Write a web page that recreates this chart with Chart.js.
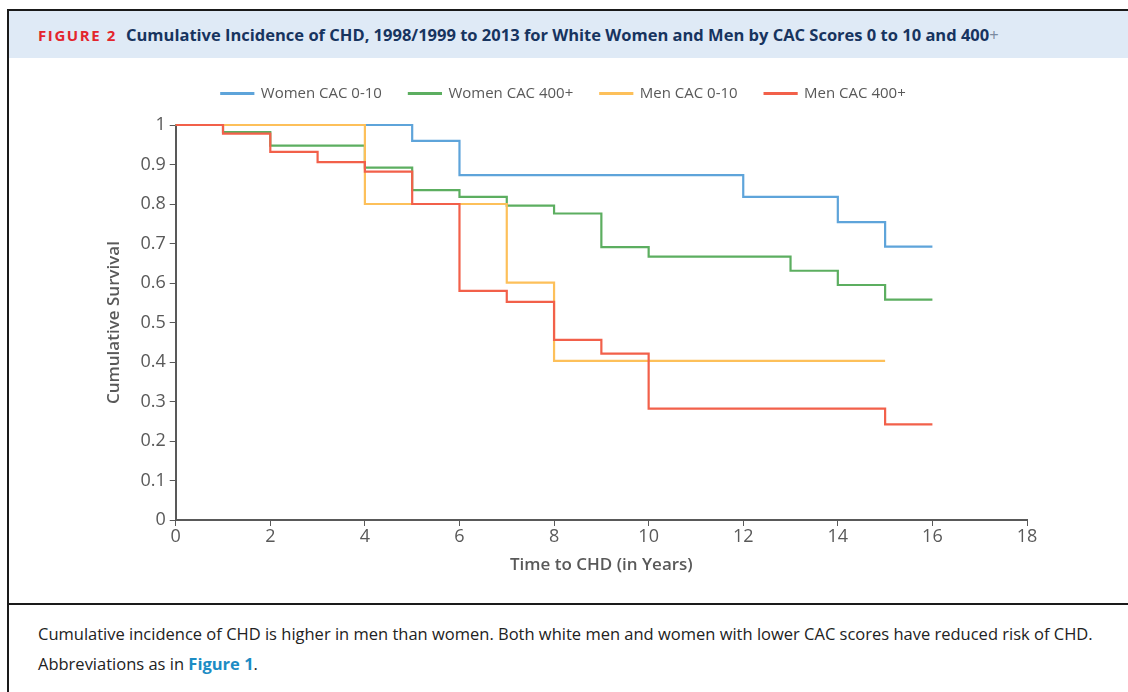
<!DOCTYPE html>
<html>
<head>
<meta charset="utf-8">
<script src="https://cdn.jsdelivr.net/npm/chart.js@4.4.0/dist/chart.umd.min.js"></script>
<style>
    body { margin: 0; background: #fff; font-family: "Open Sans", "Noto Sans", sans-serif; }
    .frame {
        position: absolute; left: 7px; top: 9px; width: 1124px; height: 690px;
        border: 2px solid #1a1a1a; border-bottom: none; box-sizing: border-box;
    }
    .header {
        height: 47px; background: #dfeaf6; line-height: 48px; padding-left: 29px;
        font-size: 16.5px; font-weight: bold; color: #17345f; white-space: nowrap;
    }
    .header .fig { color: #e3252d; font-size: 15px; letter-spacing: 1.6px; margin-right: 9px; }
    .chart-box { position: relative; height: 545px; border-bottom: 2px solid #1a1a1a; }
    .caption {
        padding: 14px 0 0 29px; font-size: 16.5px; line-height: 30px; color: #222; white-space: nowrap;
    }
    .caption b { color: #1c8cc4; }
</style>
</head>
<body>
<div class="frame">
    <div class="header"><span class="fig">FIGURE 2</span>Cumulative Incidence of CHD, 1998/1999 to 2013 for White Women and Men by CAC Scores 0 to 10 and 400<span style="font-weight:normal;color:#7a8aa0">+</span></div>
    <div class="chart-box"><canvas id="chd"></canvas></div>
    <div class="caption">Cumulative incidence of CHD is higher in men than women. Both white men and women with lower CAC scores have reduced risk of CHD.<br>Abbreviations as in <b>Figure 1</b>.</div>
</div>
<script>
// time points (years) and survival at each step
const womenLowT = [0, 5, 6, 12, 14, 15, 16];
const womenLowS = [1, 0.96, 0.873, 0.818, 0.754, 0.692, 0.692];

const womenHighT = [0, 1, 2, 4, 5, 6, 7, 8, 9, 10, 13, 14, 15, 16];
const womenHighS = [1, 0.982, 0.948, 0.892, 0.835, 0.818, 0.796, 0.776, 0.691, 0.667, 0.631, 0.595, 0.558, 0.558];

const menLowT = [0, 4, 7, 8, 15];
const menLowS = [1, 0.8, 0.601, 0.403, 0.403];

const menHighT = [0, 1, 2, 3, 4, 5, 6, 7, 8, 9, 10, 15, 16];
const menHighS = [1, 0.978, 0.932, 0.906, 0.882, 0.8, 0.58, 0.552, 0.456, 0.421, 0.282, 0.242, 0.242];

const seriesNames = ['Women CAC 0-10', 'Women CAC 400+', 'Men CAC 0-10', 'Men CAC 400+'];
const seriesColors = ['#5ea4da', '#5cae60', '#fdc05a', '#f2604a'];

const xTicks = [0, 2, 4, 6, 8, 10, 12, 14, 16, 18];

const toPoints = (t, s) => t.map((x, i) => ({ x, y: s[i] }));
const allSeries = [
    toPoints(womenLowT, womenLowS),
    toPoints(womenHighT, womenHighS),
    toPoints(menLowT, menLowS),
    toPoints(menHighT, menHighS)
];

const axisGray = '#595959';
const fontFamily = '"Open Sans", "Noto Sans", sans-serif';

// extra room between legend and plot
const legendGap = {
    id: 'legendGap',
    beforeInit(chart) {
        const fit = chart.legend.fit;
        chart.legend.fit = function () {
            fit.bind(chart.legend)();
            this.height += 14;
        };
    }
};

new Chart(document.getElementById('chd'), {
    type: 'line',
    data: {
        datasets: allSeries.map((pts, i) => ({
            label: seriesNames[i],
            data: pts,
            borderColor: seriesColors[i],
            backgroundColor: seriesColors[i],
            borderWidth: 2.2,
            pointRadius: 0,
            stepped: true,
            fill: false,
            clip: false,
            order: seriesNames.length - 1 - i   // later series drawn on top
        }))
    },
    options: {
        responsive: true,
        maintainAspectRatio: false,
        animation: false,
        layout: { padding: { left: 91, right: 102, top: 1, bottom: 24 } },
        plugins: {
            legend: {
                position: 'top',
                labels: {
                    boxWidth: 32,
                    boxHeight: 1,
                    padding: 27,
                    color: axisGray,
                    font: { family: fontFamily, size: 15 },
                    sort: (a, b) => a.datasetIndex - b.datasetIndex
                }
            },
            tooltip: { enabled: false }
        },
        scales: {
            x: {
                type: 'linear',
                min: 0,
                max: 18,
                afterBuildTicks: axis => { axis.ticks = xTicks.map(v => ({ value: v })); },
                grid: { display: true, drawOnChartArea: false, drawTicks: true, tickLength: 6, color: axisGray },
                border: { color: axisGray, width: 2 },
                ticks: { color: axisGray, padding: 0, font: { family: fontFamily, size: 18 } },
                title: {
                    display: true, text: 'Time to CHD (in Years)', color: axisGray, padding: { top: 7 },
                    font: { family: fontFamily, size: 17, weight: '600' }
                }
            },
            y: {
                min: 0,
                max: 1,
                ticks: {
                    stepSize: 0.1,
                    color: axisGray,
                    padding: 4,
                    font: { family: fontFamily, size: 18 },
                    callback: v => String(Math.round(v * 10) / 10)
                },
                grid: { display: true, drawOnChartArea: false, drawTicks: true, tickLength: 6, color: axisGray },
                border: { color: axisGray, width: 2 },
                title: {
                    display: true, text: 'Cumulative Survival', color: axisGray, padding: { bottom: 12 },
                    font: { family: fontFamily, size: 17, weight: '600' }
                }
            }
        }
    },
    plugins: [legendGap]
});
</script>
</body>
</html>
